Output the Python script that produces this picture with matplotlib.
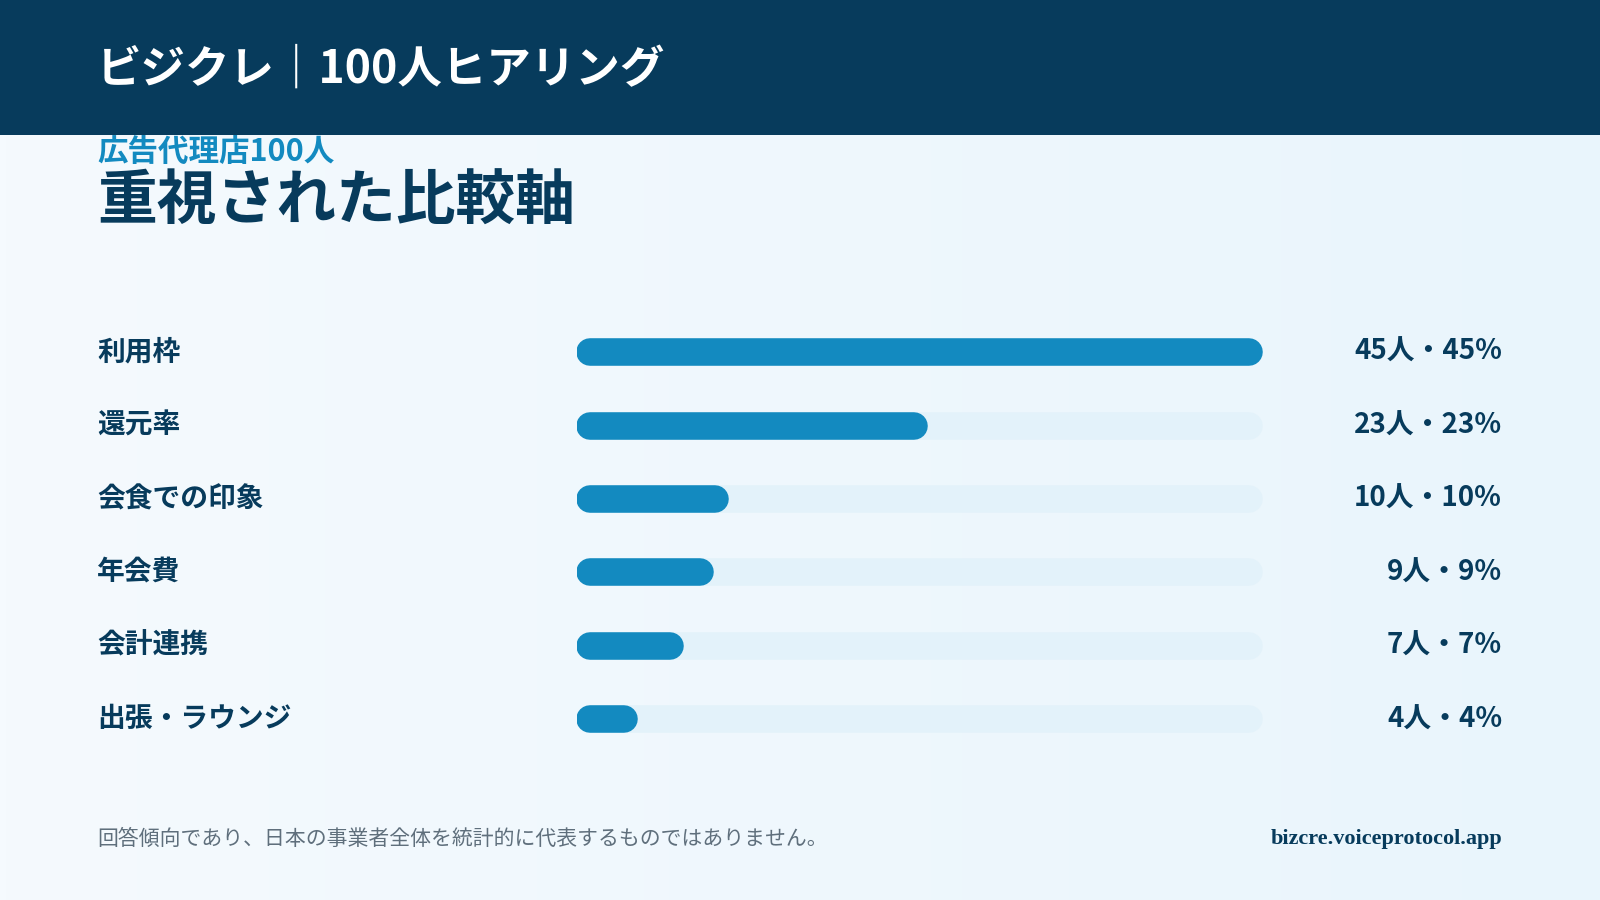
import numpy as np
import matplotlib.pyplot as plt
import matplotlib.transforms as mtransforms
from matplotlib.colors import LinearSegmentedColormap

plt.rcParams['font.family'] = ['Noto Sans CJK JP', 'DejaVu Sans']

categories = ['利用枠', '還元率', '会食での印象', '年会費', '会計連携', '出張・ラウンジ']
counts = [45, 23, 10, 9, 7, 4]
total = 100

NAVY = '#073B5C'
BLUE = '#138AC0'
TRACK = '#E3F2FA'

W, H = 1600, 900
S = 1600 / 1568  # reference measured at 1568 px width
fig = plt.figure(figsize=(16, 9), dpi=100)

# background gradient
bg = fig.add_axes([0, 0, 1, 1])
grad = np.linspace(0, 1, 256)[None, :]
cmap = LinearSegmentedColormap.from_list('bg', ['#F5FAFE', '#E9F5FC'])
bg.imshow(grad, aspect='auto', cmap=cmap, extent=[0, 1, 0, 1])
bg.set_xlim(0, 1); bg.set_ylim(0, 1)
bg.axis('off')
bg.add_patch(plt.Rectangle((0, 1 - 132 * S / H), 1, 132 * S / H, color=NAVY, lw=0))

def fx(px):
    return px * S / W

def fy(py):
    return 1 - py * S / H

fig.text(fx(95), fy(68), 'ビジクレ｜100人ヒアリング', color='white', fontsize=32,
         fontweight='bold', va='center')
fig.text(fx(95), fy(150), '広告代理店100人', color=BLUE, fontsize=22,
         fontweight='bold', va='center')
fig.text(fx(95), fy(199), '重視された比較軸', color=NAVY, fontsize=43,
         fontweight='bold', va='center')

# bars
left, right = 565, 1238
top = 309
n = len(categories)
ax = fig.add_axes([fx(left), fy(top + 72 * n), fx(right) - fx(left), 72 * n * S / H])
vmax = max(counts)
ax.set_xlim(0, vmax)
ax.set_ylim(n - 0.5, -0.5)
ax.axis('off')
lw_pt = 27 * S * 72 / 100
cap = vmax * 13.5 / (right - left)
for i, c in enumerate(counts):
    ax.plot([cap, vmax - cap], [i, i], color=TRACK, lw=lw_pt, solid_capstyle='round')
    ax.plot([cap, max(c - cap, cap)], [i, i], color=BLUE, lw=lw_pt, solid_capstyle='round')

tr = mtransforms.blended_transform_factory(fig.transFigure, ax.transData)
for i, (cat, c) in enumerate(zip(categories, counts)):
    ax.text(fx(95), i, cat, transform=tr, color=NAVY, fontsize=20,
            fontweight='bold', va='center', ha='left')
    ax.text(fx(1472), i, f'{c}人・{round(c / total * 100)}%', transform=tr,
            color=NAVY, fontsize=20, fontweight='bold', va='center', ha='right')

fig.text(fx(95), fy(822), '回答傾向であり、日本の事業者全体を統計的に代表するものではありません。',
         color='#5F6F7C', fontsize=15, va='center')
fig.text(fx(1472), fy(822), 'bizcre.voiceprotocol.app', color=NAVY, fontsize=16,
         fontweight='bold', va='center', ha='right', family=['Liberation Serif', 'DejaVu Serif'])

fig.savefig('out.png', dpi=100)
